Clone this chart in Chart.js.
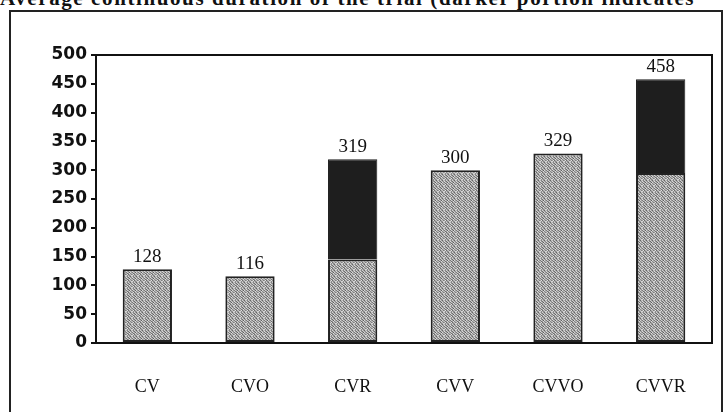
<!DOCTYPE html>
<html>
<head>
<meta charset="utf-8">
<script src="https://cdn.jsdelivr.net/npm/chart.js@4"></script>
<style>
  html, body { margin: 0; padding: 0; background: #fff; overflow: hidden; }
  #wrap { position: relative; width: 728px; height: 412px; }
  #caption {
    position: absolute; left: 0; top: -14px; width: 728px; white-space: nowrap; overflow: hidden;
    font: bold 21px "Liberation Serif", serif; color: #111; letter-spacing: 1.6px;
  }
  #frame {
    position: absolute; left: 9px; top: 10px; width: 714px; height: 420px;
    border: 2px solid #222; box-sizing: border-box;
  }
  canvas { position: absolute; left: 0; top: 0; }
</style>
</head>
<body>
<div id="wrap">
  <div id="caption">Average continuous duration of the trial (darker portion indicates</div>
  <div id="frame"></div>
  <canvas id="chart" width="728" height="412"></canvas>
</div>
<script>
// groups and values
const categories = ['CV', 'CVO', 'CVR', 'CVV', 'CVVO', 'CVVR'];
const lowerPart = [128, 116, 145, 300, 329, 295];
const darkerPart = [0, 0, 174, 0, 0, 163];
const totals = [128, 116, 319, 300, 329, 458];

// grainy grey fill like the scanned bars
function speckle() {
  const c = document.createElement('canvas');
  c.width = 6; c.height = 6;
  const g = c.getContext('2d');
  const shades = [
    180, 130, 210, 160, 100, 195,
    220, 150, 110, 200, 170, 140,
    120, 205, 175, 95, 215, 160,
    190, 110, 150, 220, 135, 180,
    155, 225, 105, 170, 195, 125,
    210, 140, 185, 130, 160, 215
  ];
  shades.forEach((s, i) => {
    g.fillStyle = `rgb(${s},${s},${s})`;
    g.fillRect(i % 6, Math.floor(i / 6), 1, 1);
  });
  return g.createPattern(c, 'repeat');
}

const frameLines = {
  id: 'frameLines',
  afterDraw(chart) {
    const { ctx, chartArea: a } = chart;
    ctx.save();
    ctx.strokeStyle = '#111';
    ctx.lineWidth = 2;
    ctx.beginPath();
    ctx.moveTo(a.left, a.top);
    ctx.lineTo(a.right, a.top);
    ctx.lineTo(a.right, a.bottom);
    ctx.stroke();
    ctx.restore();
  }
};

const totalLabels = {
  id: 'totalLabels',
  afterDatasetsDraw(chart) {
    const { ctx, scales } = chart;
    ctx.save();
    ctx.font = '19px "Liberation Serif", serif';
    ctx.fillStyle = '#111';
    ctx.textAlign = 'center';
    ctx.textBaseline = 'bottom';
    totals.forEach((t, i) => {
      ctx.fillText(String(t), scales.x.getPixelForValue(i), scales.y.getPixelForValue(t) - 3);
    });
    ctx.restore();
  }
};

new Chart(document.getElementById('chart'), {
  type: 'bar',
  data: {
    labels: categories,
    datasets: [
      {
        data: lowerPart,
        backgroundColor: speckle(),
        borderColor: '#222',
        borderWidth: 2,
        borderSkipped: false
      },
      {
        data: darkerPart,
        backgroundColor: '#1e1e1e',
        borderColor: '#1e1e1e',
        borderWidth: 1
      }
    ]
  },
  options: {
    responsive: false,
    animation: false,
    barPercentage: 0.48,
    categoryPercentage: 1,
    layout: { padding: { top: 55, right: 16, left: 0, bottom: 0 } },
    plugins: { legend: { display: false }, tooltip: { enabled: false } },
    scales: {
      x: {
        stacked: true,
        grid: { display: false },
        border: { color: '#111', width: 2 },
        ticks: { color: '#111', padding: 25, font: { family: '"Liberation Serif", serif', size: 18 } },
        afterFit(s) { s.height = 69; }
      },
      y: {
        stacked: true,
        min: 0, max: 500,
        grid: { display: true, drawOnChartArea: false, drawTicks: true, tickLength: 5, color: '#111', lineWidth: 2 },
        border: { color: '#111', width: 2 },
        ticks: { stepSize: 50, color: '#111', padding: 4, font: { family: '"DejaVu Sans", sans-serif', size: 17, weight: '600' } },
        afterFit(s) { s.width = 96; }
      }
    }
  },
  plugins: [frameLines, totalLabels]
});
</script>
</body>
</html>
